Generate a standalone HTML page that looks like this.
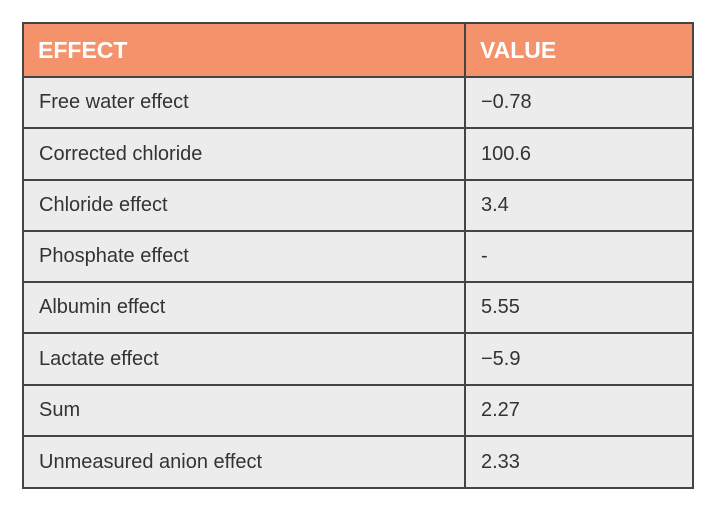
<!DOCTYPE html>
<html><head><meta charset="utf-8"><style>
body{margin:0;width:713px;height:513px;background:#fff;position:relative;overflow:hidden;font-family:"Liberation Sans",sans-serif}
.c{position:absolute;box-sizing:border-box;display:flex;align-items:center;padding-left:16px;color:#333;font-size:20px}
.h{background:#f4926b;color:#fff;font-weight:bold;font-size:23px;padding-left:15px}
.b{background:#ececec}
.ln{position:absolute;background:#444}
</style></head><body>
<div id="t"></div>
<script>
const labels=["Free water effect","Corrected chloride","Chloride effect","Phosphate effect","Albumin effect","Lactate effect","Sum","Unmeasured anion effect"];
const values=["\u22120.78","100.6","3.4","-","5.55","\u22125.9","2.27","2.33"];
const ys=[23,77,128,180,231,282,333,385,436,488];
const xs=[23,465,693];
const t=document.getElementById('t');
function cell(x,y,w,h,txt,cls,name){const d=document.createElement('div');d.className='c '+cls;d.style.left=x+'px';d.style.top=y+'px';d.style.width=w+'px';d.style.height=h+'px';d.textContent=txt;


t.appendChild(d);}
cell(xs[0],ys[0],xs[1]-xs[0],ys[1]-ys[0],"EFFECT","h","header-effect");
cell(xs[1],ys[0],xs[2]-xs[1],ys[1]-ys[0],"VALUE","h","header-value");
labels.forEach((l,i)=>{const y=ys[i+1],h=ys[i+2]-y;
cell(xs[0],y,xs[1]-xs[0],h,l,"b","effect-label");
cell(xs[1],y,xs[2]-xs[1],h,values[i],"b","effect-value");});
function line(x,y,w,h){const d=document.createElement('div');d.className='ln';d.style.left=x+'px';d.style.top=y+'px';d.style.width=w+'px';d.style.height=h+'px';


t.appendChild(d);}
ys.forEach(y=>line(xs[0]-1,y-1,xs[2]-xs[0]+2,2));
xs.forEach(x=>line(x-1,ys[0]-1,2,ys[ys.length-1]-ys[0]+2));
</script>
</body></html>
